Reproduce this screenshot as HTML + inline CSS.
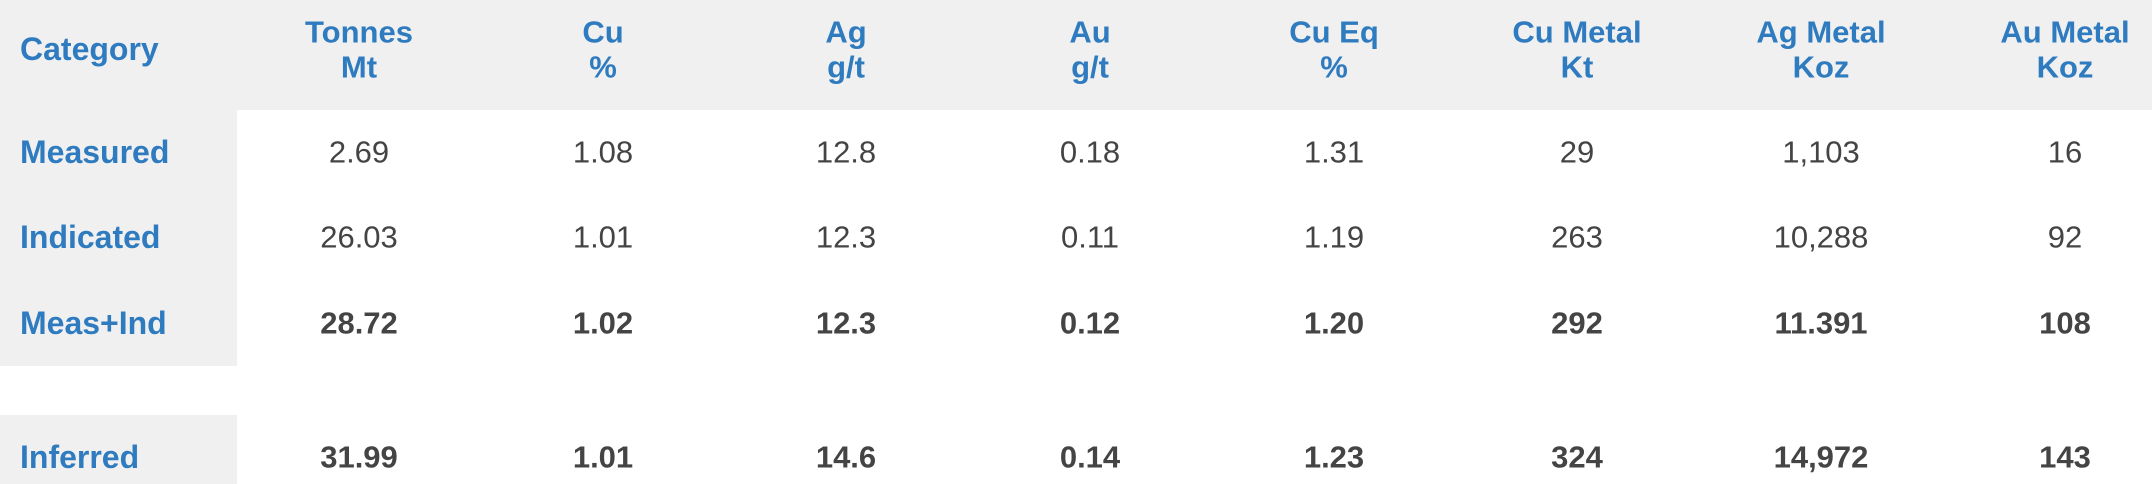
<!DOCTYPE html>
<html><head><meta charset="utf-8"><style>
html,body{margin:0;padding:0;background:#fff;}
body{width:2152px;height:484px;position:relative;overflow:hidden;font-family:"Liberation Sans Narrow","Liberation Sans",sans-serif;}
.bg{position:absolute;background:#f0f0f0;}
.t{position:absolute;white-space:nowrap;transform:translate(-50%,-50%);font-size:31px;line-height:1;}
.h{color:#2f7bbf;font-weight:bold;}
.l{position:absolute;white-space:nowrap;transform:translateY(-50%);left:20px;color:#2f7bbf;font-weight:bold;font-size:32px;line-height:1;}
.v{color:#444;}
.b{color:#444;font-weight:bold;}
</style></head><body>
<div class="bg" style="left:0;top:0;width:2152px;height:110px"></div>
<div class="bg" style="left:0;top:110px;width:237px;height:256px"></div>
<div class="bg" style="left:0;top:415px;width:237px;height:69px"></div>

<div class="l" style="top:49px">Category</div>
<div class="l" style="top:152px">Measured</div>
<div class="l" style="top:237px">Indicated</div>
<div class="l" style="top:323px">Meas+Ind</div>
<div class="l" style="top:457px">Inferred</div>

<div class="t h" style="left:359px;top:32px">Tonnes</div><div class="t h" style="left:359px;top:67px">Mt</div>
<div class="t h" style="left:603px;top:32px">Cu</div><div class="t h" style="left:603px;top:67px">%</div>
<div class="t h" style="left:846px;top:32px">Ag</div><div class="t h" style="left:846px;top:67px">g/t</div>
<div class="t h" style="left:1090px;top:32px">Au</div><div class="t h" style="left:1090px;top:67px">g/t</div>
<div class="t h" style="left:1334px;top:32px">Cu Eq</div><div class="t h" style="left:1334px;top:67px">%</div>
<div class="t h" style="left:1577px;top:32px">Cu Metal</div><div class="t h" style="left:1577px;top:67px">Kt</div>
<div class="t h" style="left:1821px;top:32px">Ag Metal</div><div class="t h" style="left:1821px;top:67px">Koz</div>
<div class="t h" style="left:2065px;top:32px">Au Metal</div><div class="t h" style="left:2065px;top:67px">Koz</div>

<div class="t v" style="left:359px;top:152px">2.69</div>
<div class="t v" style="left:603px;top:152px">1.08</div>
<div class="t v" style="left:846px;top:152px">12.8</div>
<div class="t v" style="left:1090px;top:152px">0.18</div>
<div class="t v" style="left:1334px;top:152px">1.31</div>
<div class="t v" style="left:1577px;top:152px">29</div>
<div class="t v" style="left:1821px;top:152px">1,103</div>
<div class="t v" style="left:2065px;top:152px">16</div>

<div class="t v" style="left:359px;top:237px">26.03</div>
<div class="t v" style="left:603px;top:237px">1.01</div>
<div class="t v" style="left:846px;top:237px">12.3</div>
<div class="t v" style="left:1090px;top:237px">0.11</div>
<div class="t v" style="left:1334px;top:237px">1.19</div>
<div class="t v" style="left:1577px;top:237px">263</div>
<div class="t v" style="left:1821px;top:237px">10,288</div>
<div class="t v" style="left:2065px;top:237px">92</div>

<div class="t b" style="left:359px;top:323px">28.72</div>
<div class="t b" style="left:603px;top:323px">1.02</div>
<div class="t b" style="left:846px;top:323px">12.3</div>
<div class="t b" style="left:1090px;top:323px">0.12</div>
<div class="t b" style="left:1334px;top:323px">1.20</div>
<div class="t b" style="left:1577px;top:323px">292</div>
<div class="t b" style="left:1821px;top:323px">11.391</div>
<div class="t b" style="left:2065px;top:323px">108</div>

<div class="t b" style="left:359px;top:457px">31.99</div>
<div class="t b" style="left:603px;top:457px">1.01</div>
<div class="t b" style="left:846px;top:457px">14.6</div>
<div class="t b" style="left:1090px;top:457px">0.14</div>
<div class="t b" style="left:1334px;top:457px">1.23</div>
<div class="t b" style="left:1577px;top:457px">324</div>
<div class="t b" style="left:1821px;top:457px">14,972</div>
<div class="t b" style="left:2065px;top:457px">143</div>
</body></html>
